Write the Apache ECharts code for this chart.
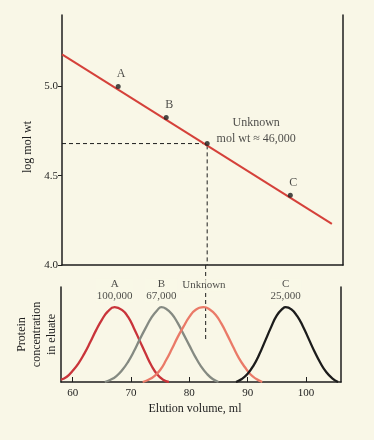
<!DOCTYPE html>
<html><head><meta charset="utf-8">
<script src="https://cdn.jsdelivr.net/npm/echarts@6/dist/echarts.min.js"></script>
<style>html,body{margin:0;padding:0;background:#f9f7e7}#c{width:374px;height:440px}</style>
</head><body><div id="c"></div>
<script>
// ---- data ----
const elutionTicks = [60, 70, 80, 90, 100];
const logTicks = [4.0, 4.5, 5.0];

// calibration plot (top)
const standardLabels = ['A', 'B', 'Unknown\nmol wt \u2248 46,000', 'C'];
const standardElution = [67.6, 75.8, 82.8, 97.0];
const standardLogMW = [5.0, 4.826, 4.68, 4.39];
const fitLine = [[58, 5.18], [104.1, 4.23]];

// elution profiles (bottom)
const peakNames = ['A', 'B', 'Unknown', 'C'];
const peakWeights = ['100,000', '67,000', '', '25,000'];
const curveA = [[58,3],[59,7],[60,15],[61,25],[62,38],[63,53],[64,69],[65,83],[66,94],[67.2,100],[68.5,96],[69.5,87],[70.5,72],[71.5,55],[72.5,38],[73.5,22],[74.5,10],[75.5,3],[76.5,0]];
const curveB = [[65.5,0],[66.5,3],[67.5,8],[68.5,16],[69.5,27],[70.5,41],[71.5,57],[72.5,72],[73.5,86],[74.5,96],[75.2,100],[76,98],[77,91],[78,79],[79,64],[80,49],[81,34],[82,21],[83,11],[84,4],[85,0]];
const curveUnknown = [[72,0],[73,3],[74,8],[75,16],[76,29],[77,44],[78,60],[79,74],[80,87],[81,96],[82.5,100],[83.5,97],[84.5,90],[85.5,78],[86.5,63],[87.5,47],[88.5,32],[89.5,20],[90.5,10],[91.5,4],[92.5,0]];
const curveC = [[88,0],[89,4],[90,11],[91,22],[92,37],[93,55],[94,73],[95,89],[96,98],[96.5,100],[97.5,97],[98.5,88],[99.5,74],[100.5,57],[101.5,40],[102.5,25],[103.5,13],[104.5,5],[105.5,0]];
const unknownDropValue = 56; // where the dashed drop line ends in the elution plot

// ---- layout / style ----
const BG = '#f9f7e7';
const INK = '#1e1e1e';
const FONT = 'Liberation Serif';
const xMin = 58, xMax = 106;
const topGrid = {left: 62, right: 31, top: 15, height: 250, outerBoundsMode: 'none', containLabel: false};
const botGrid = {left: 61, right: 33, top: 287, height: 95, outerBoundsMode: 'none', containLabel: false};
const logMin = 4.0, logMax = 5.4;
const concMax = 127;

const curves = [curveA, curveB, curveUnknown, curveC];
const curveColors = ['#c9343a', '#858a82', '#ea7a68', '#1c1c1c'];

const peaks = curves.map(c => c.reduce((m, p) => p[1] > m[1] ? p : m, c[0]));
const unkX = standardElution[2];
const unkY = standardLogMW[2];
// extend the bottom drop line up through the gap between the plots
const gapPx = botGrid.top - (topGrid.top + topGrid.height);
const bridgeTop = concMax + gapPx * concMax / botGrid.height;

const chart = echarts.init(document.getElementById('c'), null, {renderer: 'canvas'});
chart.setOption({
  backgroundColor: BG,
  animation: false,
  grid: [
    Object.assign({}, topGrid),
    Object.assign({}, botGrid)
  ],
  xAxis: [
    {type: 'value', gridIndex: 0, min: xMin, max: xMax,
     axisLine: {show: true, lineStyle: {color: INK, width: 1.5}},
     axisTick: {show: false}, axisLabel: {show: false}, splitLine: {show: false}},
    {type: 'value', gridIndex: 1, min: xMin, max: xMax,
     axisLine: {show: true, lineStyle: {color: INK, width: 1.5}},
     axisTick: {show: true, inside: true, length: 5, customValues: elutionTicks, lineStyle: {color: INK}},
     axisLabel: {show: true, customValues: elutionTicks, margin: 6, fontFamily: FONT, fontSize: 11, color: INK},
     splitLine: {show: false},
     name: 'Elution volume, ml', nameLocation: 'middle', nameGap: 21,
     nameTextStyle: {fontFamily: FONT, fontSize: 12, color: INK, padding: [0, 12, 0, 0]}}
  ],
  yAxis: [
    {type: 'value', gridIndex: 0, min: logMin, max: logMax,
     axisLine: {show: true, lineStyle: {color: INK, width: 1.5}},
     axisTick: {show: true, length: 4, customValues: logTicks, lineStyle: {color: INK}},
     axisLabel: {show: true, customValues: logTicks, margin: 4, fontFamily: FONT, fontSize: 11, color: INK,
                 formatter: v => v.toFixed(1)},
     splitLine: {show: false},
     name: 'log mol wt', nameLocation: 'middle', nameGap: 24,
     nameTextStyle: {fontFamily: FONT, fontSize: 12, color: INK, padding: [0, 14, 0, 0]}},
    {type: 'value', gridIndex: 0, position: 'right', min: logMin, max: logMax,
     axisLine: {show: true, lineStyle: {color: INK, width: 1.5}},
     axisTick: {show: false}, axisLabel: {show: false}, splitLine: {show: false}},
    {type: 'value', gridIndex: 1, min: 0, max: concMax,
     axisLine: {show: true, lineStyle: {color: INK, width: 1.5}},
     axisTick: {show: false}, axisLabel: {show: false}, splitLine: {show: false},
     name: 'Protein\nconcentration\nin eluate', nameLocation: 'middle', nameGap: 2,
     nameTextStyle: {fontFamily: FONT, fontSize: 12, color: INK, lineHeight: 15}},
    {type: 'value', gridIndex: 1, position: 'right', min: 0, max: concMax,
     axisLine: {show: true, lineStyle: {color: INK, width: 1.5}},
     axisTick: {show: false}, axisLabel: {show: false}, splitLine: {show: false}}
  ],
  series: [
    // dashed guides in the calibration plot
    {type: 'line', xAxisIndex: 0, yAxisIndex: 0, symbol: 'none', z: 1,
     data: [[xMin, unkY], [unkX, unkY], [unkX, logMin]],
     lineStyle: {color: INK, width: 1, type: [4, 3]}},
    // dashed drop line continuing into the elution plot
    {type: 'line', xAxisIndex: 1, yAxisIndex: 2, symbol: 'none', clip: false, z: 1,
     data: [[unkX, bridgeTop], [unkX, unknownDropValue]],
     lineStyle: {color: INK, width: 1, type: [4, 3]}},
    // calibration line
    {type: 'line', xAxisIndex: 0, yAxisIndex: 0, symbol: 'none', z: 2,
     data: fitLine, lineStyle: {color: '#d5413a', width: 2}},
    // standards and unknown
    {type: 'scatter', xAxisIndex: 0, yAxisIndex: 0, z: 3,
     symbol: 'circle', symbolSize: 5, itemStyle: {color: INK},
     data: standardElution.map((x, i) => ({
       value: [x, standardLogMW[i]],
       label: i === 2
         ? {show: true, position: 'top', offset: [49, 11], formatter: standardLabels[i], align: 'center',
            lineHeight: 16, fontFamily: FONT, fontSize: 12, color: INK}
         : {show: true, position: 'top', offset: [3, 1], formatter: standardLabels[i],
            fontFamily: FONT, fontSize: 12, color: INK}
     }))},
    // elution curves
    ...curves.map((c, i) => ({
      type: 'line', xAxisIndex: 1, yAxisIndex: 2, smooth: 0.5, symbol: 'none', z: 2,
      data: c, lineStyle: {color: curveColors[i], width: 2.3}
    })),
    // peak labels
    {type: 'scatter', xAxisIndex: 1, yAxisIndex: 2, symbolSize: 0, z: 4, clip: false,
     data: peaks.map((p, i) => ({
       value: p,
       label: {show: true, position: 'top', distance: 5,
               offset: peakWeights[i] ? [0, 0] : [0, -11],
               formatter: peakWeights[i] ? peakNames[i] + '\n' + peakWeights[i] : peakNames[i],
               align: 'center', lineHeight: 12, fontFamily: FONT, fontSize: 11, color: INK,
               backgroundColor: BG, padding: [0, 1]}
     }))}
  ]
});
</script></body></html>
